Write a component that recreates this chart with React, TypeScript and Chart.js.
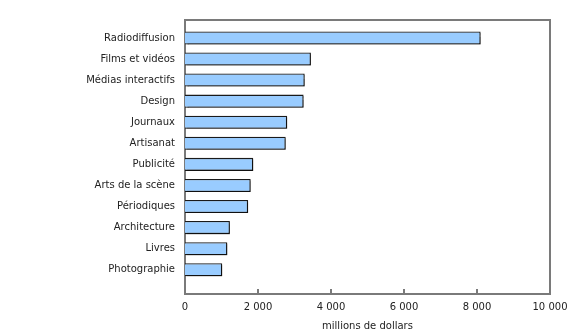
import React, { useEffect, useRef } from "react";
import { Chart, registerables } from "chart.js";

Chart.register(...registerables);

const categories = [
  "Radiodiffusion",
  "Films et vidéos",
  "Médias interactifs",
  "Design",
  "Journaux",
  "Artisanat",
  "Publicité",
  "Arts de la scène",
  "Périodiques",
  "Architecture",
  "Livres",
  "Photographie",
];
const values = [8100, 3450, 3280, 3250, 2800, 2760, 1870, 1800, 1730, 1230, 1160, 1020];
const xTicks = [0, 2000, 4000, 6000, 8000, 10000];
const xTitle = "millions de dollars";

const FONT = "'DejaVu Sans', Verdana, sans-serif";
const AXIS = "#7a7a7a";

const fmt = (v: number) => String(v).replace(/\B(?=(\d{3})+(?!\d))/g, " ");

const framePlugin = {
  id: "frame",
  beforeDatasetDraw(chart: any) {
    const ctx = chart.ctx;
    ctx.save();
    ctx.shadowColor = "rgba(0,0,0,0.4)";
    ctx.shadowOffsetX = 1.5;
    ctx.shadowOffsetY = 1.5;
    ctx.shadowBlur = 1;
  },
  afterDatasetDraw(chart: any) {
    chart.ctx.restore();
  },
  afterDraw(chart: any) {
    const { ctx, chartArea } = chart;
    const { left, right, top, bottom } = chartArea;
    ctx.save();
    ctx.strokeStyle = AXIS;
    ctx.lineWidth = 2;
    ctx.beginPath();
    ctx.moveTo(left, top);
    ctx.lineTo(right, top);
    ctx.lineTo(right, bottom);
    ctx.stroke();
    const xs = chart.scales.x;
    ctx.beginPath();
    xTicks.forEach((t) => {
      const px = xs.getPixelForValue(t);
      ctx.moveTo(px, bottom);
      ctx.lineTo(px, bottom - 5);
    });
    ctx.stroke();
    ctx.restore();
  },
};

export default function App() {
  const ref = useRef<HTMLCanvasElement | null>(null);
  useEffect(() => {
    if (!ref.current) return;
    const chart = new Chart(ref.current, {
      type: "bar",
      data: {
        datasets: [
          {
            data: values.map((v, i) => ({ x: v, y: i })) as any,
            backgroundColor: "#99ccff",
            borderColor: "#1a1a1a",
            borderWidth: 1.3,
            barPercentage: 0.62,
            categoryPercentage: 1,
          },
        ],
      },
      options: {
        indexAxis: "y",
        animation: false,
        responsive: false,
        maintainAspectRatio: false,
        layout: { padding: { left: 0, right: 30, top: 20, bottom: 0 } },
        plugins: { legend: { display: false }, tooltip: { enabled: false } },
        scales: {
          y: {
            type: "linear",
            reverse: true,
            offset: false,
            min: -0.85,
            max: 12.15,
            afterFit: (s: any) => {
              s.width = 185;
            },
            afterBuildTicks: (s: any) => {
              s.ticks = categories.map((_, i) => ({ value: i }));
            },
            grid: { display: false, drawTicks: false, offset: false },
            border: { display: true, color: AXIS, width: 2 },
            ticks: {
              color: "#222",
              font: { family: FONT, size: 10 },
              padding: 10,
              callback: (v: any) => categories[v as number] ?? "",
            },
          },
          x: {
            type: "linear",
            min: 0,
            max: 10000,
            afterFit: (s: any) => {
              s.height = 41;
            },
            grid: { display: false, drawTicks: false },
            border: { display: true, color: AXIS, width: 2 },
            ticks: {
              stepSize: 2000,
              color: "#222",
              font: { family: FONT, size: 10 },
              padding: 7,
              maxRotation: 0,
              callback: (v: any) => fmt(Number(v)),
            },
            title: {
              display: true,
              text: xTitle,
              color: "#222",
              font: { family: FONT, size: 10 },
              padding: { top: 4, bottom: 3 },
            },
          },
        },
      },
      plugins: [framePlugin],
    });
    return () => chart.destroy();
  }, []);
  return (
    <div style={{ position: "fixed", left: 0, top: 0, width: 580, height: 335, background: "#fff" }}>
      <canvas ref={ref} width={580} height={335} style={{ width: 580, height: 335 }} />
    </div>
  );
}
